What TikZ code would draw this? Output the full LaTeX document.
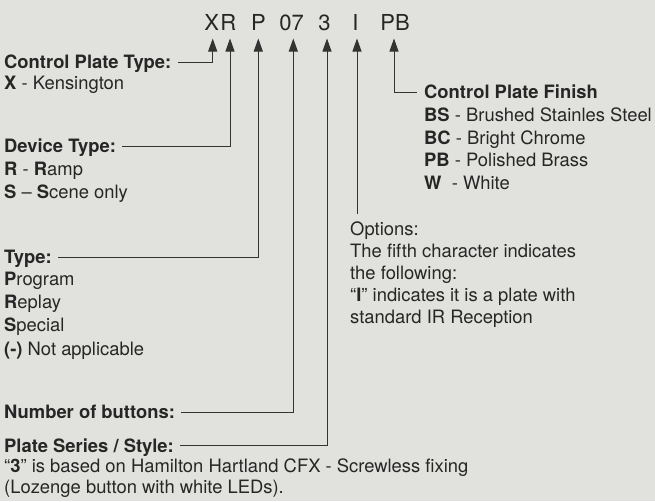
\documentclass[tikz,border=0pt]{standalone}
\usepackage{fontspec}
\setmainfont{TeX Gyre Heros}
\newfontfamily\titlefont{TeX Gyre Heros}
\usetikzlibrary{arrows.meta}
\definecolor{bg}{HTML}{E1E1DD}
\definecolor{txt}{HTML}{262626}
\definecolor{ln}{HTML}{333333}
\newcommand\bodyfont{\fontsize{18.4}{23}\selectfont}
\newcommand\codefont{\titlefont\fontsize{22}{26}\selectfont}
\begin{document}
\begin{tikzpicture}[x=1pt,y=-1pt,
  body/.style={font=\bodyfont, text=txt, inner sep=0pt, anchor=base west},
  head/.style={font=\bodyfont\bfseries, text=txt, inner sep=0pt, anchor=west, text depth=0pt},
  code/.style={font=\codefont, text=txt, inner xsep=0pt, inner ysep=7.6pt, text depth=0pt, anchor=base},
  conn/.style={draw=ln, line width=1pt},
  arr/.style={conn, -{Triangle[width=9pt,length=13pt]}}]
\fill[bg] (0,0) rectangle (655,501);
\useasboundingbox (0,0) rectangle (655,501);
% code
\node[code] (cX) at (211.7,30.7) {X};
\node[code] (cR) at (228.2,30.7) {R};
\node[code] (cP) at (258.5,30.7) {P};
\node[code] (c07) at (291.7,30.7) {07};
\node[code] (c3) at (324.5,30.7) {3};
\node[code] (cI) at (355.5,30.7) {I};
\node[code] (cPB) at (395,30.7) {PB};
% left column
\node[head] (cpt) at (4,62) {Control Plate Type:};
\node[body] (cptX) at (4,89) {\textbf{X} - Kensington};
\node[head] (dev) at (4,146) {Device Type:};
\node[body] (devR) at (4,175) {\textbf{R} - \textbf{R}amp};
\node[body] (devS) at (4,198) {\textbf{S} – \textbf{S}cene only};
\node[head] (typ) at (4,257) {Type:};
\node[body] (typP) at (4,285.5) {\textbf{P}rogram};
\node[body] (typR) at (4,308.7) {\textbf{R}eplay};
\node[body] (typS) at (4,331.9) {\textbf{S}pecial};
\node[body] (typN) at (4,355) {\textbf{(-)} Not applicable};
\node[head] (nob) at (4,412) {Number of buttons:};
\node[head] (ps) at (4,445.5) {Plate Series / Style:};
\node[body] (ps1) at (4,472.5) {“\textbf{3}” is based on Hamilton Hartland CFX - Screwless fixing};
\node[body] (ps2) at (4,493) {(Lozenge button with white LEDs).};
% right column
\node[head] (cpf) at (424,92) {Control Plate Finish};
\node[body] (fBS) at (424,121.7) {\textbf{BS} - Brushed Stainles Steel};
\node[body] (fBC) at (424,144.3) {\textbf{BC} - Bright Chrome};
\node[body] (fPB) at (424,166.8) {\textbf{PB} - Polished Brass};
\node[body] (fW) at (424,189.5) {\textbf{W}\ \ - White};
\node[body] (opt) at (350,235) {Options:};
\node[body] (opt1) at (350,257.3) {The fifth character indicates};
\node[body] (opt2) at (350,279.5) {the following:};
\node[body] (opt3) at (350,301.7) {“\textbf{I}” indicates it is a plate with};
\node[body] (opt4) at (350,323.5) {standard IR Reception};
\coordinate (optTop) at (357,214);
% connectors
\draw[arr, shorten <=6pt] (cpt.east) -| ([xshift=1pt]cX.south);
\draw[arr, shorten <=6pt] (dev.east) -| ([xshift=1.8pt]cR.south);
\draw[arr, shorten <=6pt] (typ.east) -| ([xshift=-0.2pt]cP.south);
\draw[arr, shorten <=6pt] (nob.east) -| ([xshift=1.6pt]c07.south);
\draw[arr, shorten <=6pt] (ps.east) -| ([xshift=2.5pt]c3.south);
\draw[arr] (optTop) -- (optTop |- cI.south);
\draw[arr, shorten <=7pt] (cpf.west) -| ([xshift=-1pt]cPB.south);
\end{tikzpicture}
\end{document}
